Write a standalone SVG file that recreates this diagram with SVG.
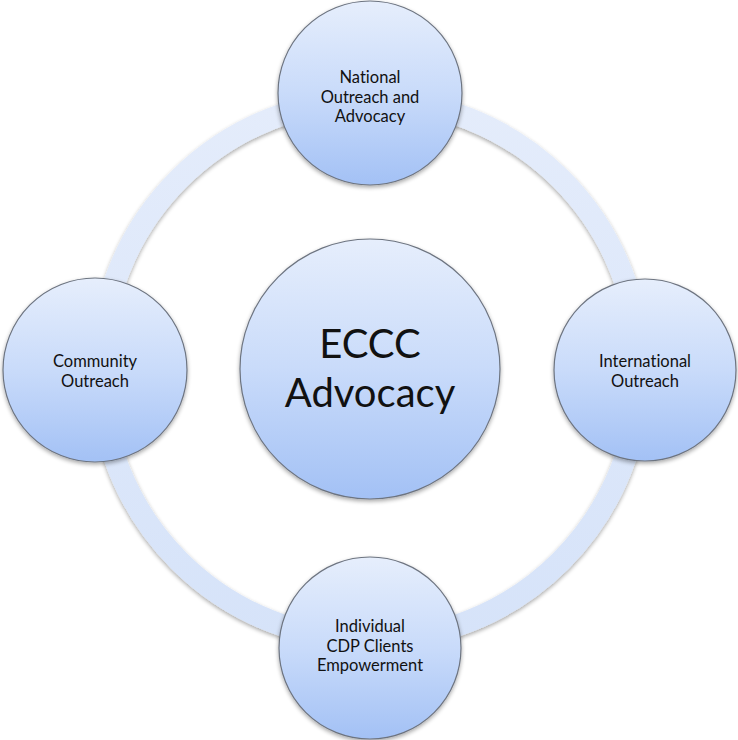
<svg xmlns="http://www.w3.org/2000/svg" width="738" height="740" viewBox="0 0 738 740">
<defs>
<linearGradient id="nodeFill" x1="0" y1="0" x2="0" y2="1">
<stop offset="0" stop-color="#e6eefc"/>
<stop offset="0.5" stop-color="#c9dbfa"/>
<stop offset="1" stop-color="#a3c1f5"/>
</linearGradient>
<linearGradient id="ringStroke" x1="0" y1="0" x2="0" y2="1">
<stop offset="0" stop-color="#e4ecfb"/>
<stop offset="1" stop-color="#d6e3f9"/>
</linearGradient>
<filter id="shadow" x="-20%" y="-20%" width="140%" height="140%">
<feGaussianBlur in="SourceAlpha" stdDeviation="2"/>
<feOffset dx="0" dy="2" result="b"/>
<feComponentTransfer><feFuncA type="linear" slope="0.35"/></feComponentTransfer>
<feMerge><feMergeNode/><feMergeNode in="SourceGraphic"/></feMerge>
</filter>
<style>
.node{fill:url(#nodeFill);stroke:#6d7480;stroke-width:1.2;filter:url(#shadow);}
.lbl{font-family:Lato,"Open Sans","Liberation Sans",sans-serif;font-size:16.5px;fill:#111;text-anchor:middle;font-variant-ligatures:none;}
.big{font-family:Lato,"Open Sans","Liberation Sans",sans-serif;font-size:40px;fill:#111;text-anchor:middle;font-variant-ligatures:none;}
</style>
</defs>
<rect width="738" height="740" fill="#ffffff"/>
<g id="connectors">
<circle cx="370" cy="370" r="270" fill="none" stroke="url(#ringStroke)" stroke-width="22" filter="url(#shadow)"/>
</g>
<g id="center">
<circle class="node" cx="370" cy="369" r="130"/>
<text class="big" x="370" y="358">ECCC</text>
<text class="big" x="370" y="407">Advocacy</text>
</g>
<g id="national">
<circle class="node" cx="370" cy="93" r="92"/>
<text class="lbl" x="370" y="83">National</text>
<text class="lbl" x="370" y="103">Outreach and</text>
<text class="lbl" x="370" y="122">Advocacy</text>
</g>
<g id="community">
<circle class="node" cx="95" cy="370" r="92"/>
<text class="lbl" x="95" y="367">Community</text>
<text class="lbl" x="95" y="387">Outreach</text>
</g>
<g id="international">
<circle class="node" cx="645" cy="370" r="91"/>
<text class="lbl" x="645" y="367">International</text>
<text class="lbl" x="645" y="387">Outreach</text>
</g>
<g id="individual">
<circle class="node" cx="370" cy="648" r="91"/>
<text class="lbl" x="370" y="632">Individual</text>
<text class="lbl" x="370" y="652">CDP Clients</text>
<text class="lbl" x="370" y="671">Empowerment</text>
</g>
</svg>
